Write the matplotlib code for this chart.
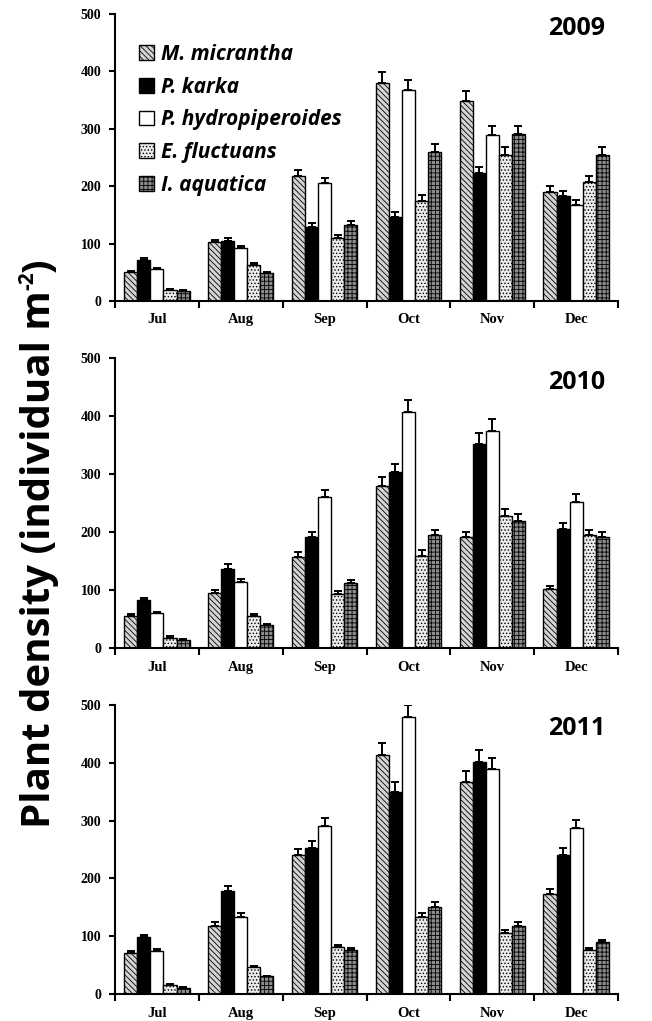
import numpy as np
import matplotlib.pyplot as plt

plt.rcParams['hatch.linewidth'] = 0.6

months = ['Jul', 'Aug', 'Sep', 'Oct', 'Nov', 'Dec']
species = ['M. micrantha', 'P. karka', 'P. hydropiperoides', 'E. fluctuans', 'I. aquatica']
years = ['2009', '2010', '2011']

# mean density per species (rows) and month (cols)
d2009 = [[50, 102, 218, 380, 348, 190],
         [72, 104, 129, 146, 223, 183],
         [55, 92, 205, 367, 290, 168],
         [20, 63, 109, 175, 254, 208],
         [18, 48, 132, 260, 291, 255]]
e2009 = [[3, 5, 11, 19, 17, 11],
         [3, 5, 7, 9, 11, 9],
         [3, 4, 10, 18, 14, 8],
         [1, 3, 6, 9, 14, 10],
         [1, 2, 7, 14, 14, 13]]

d2010 = [[56, 95, 157, 279, 191, 102],
         [83, 136, 191, 303, 352, 205],
         [60, 113, 260, 406, 374, 251],
         [18, 56, 93, 159, 227, 194],
         [14, 40, 112, 194, 219, 191]]
e2010 = [[2, 5, 9, 15, 9, 5],
         [4, 8, 9, 15, 18, 10],
         [2, 6, 13, 22, 20, 14],
         [2, 2, 5, 10, 12, 10],
         [1, 2, 6, 9, 12, 9]]

d2011 = [[71, 117, 240, 413, 366, 173],
         [98, 179, 252, 350, 401, 240],
         [75, 134, 291, 479, 390, 287],
         [16, 47, 81, 134, 105, 77],
         [11, 31, 76, 151, 117, 90]]
e2011 = [[3, 7, 11, 21, 19, 9],
         [4, 8, 12, 17, 21, 12],
         [3, 6, 13, 21, 18, 14],
         [1, 2, 4, 6, 6, 3],
         [1, 1, 4, 8, 7, 4]]

data = [d2009, d2010, d2011]
errs = [e2009, e2010, e2011]

faces = ['#d4d4d4', 'black', 'white', '#ececec', '#8c8c8c']
hatches = ['\\\\\\\\\\\\', None, None, '.....', '++++']

serif = 'Liberation Serif'
sans = 'Open Sans'

fig = plt.figure(figsize=(6.52, 10.21), dpi=100)
W, H = 652.0, 1021.0
boxes = [[0.1764, 0.7052, 0.7716, 0.2811],
         [0.1764, 0.3653, 0.7716, 0.2841],
         [0.1764, 0.0264, 0.7716, 0.2831]]
year_y = [0.951, 0.917, 0.92]

x = np.arange(len(months))
w = 0.156

for k in range(3):
    ax = fig.add_axes(boxes[k])
    for i in range(5):
        pos = x + (i - 2) * w
        vals = np.array(data[k][i])
        err = np.array(errs[k][i])
        ax.bar(pos, vals, w, color=faces[i], edgecolor='black', linewidth=1.0,
               hatch=hatches[i], label=species[i], zorder=2)
        ax.errorbar(pos, vals, yerr=[np.zeros_like(err), err], fmt='none',
                    ecolor='black', elinewidth=1.4, capsize=3, capthick=1.4, zorder=3)
    ax.set_xlim(-0.5, 5.5)
    ax.set_ylim(0, 500)
    ax.spines['top'].set_visible(False)
    ax.spines['right'].set_visible(False)
    ax.spines['left'].set_linewidth(1.5)
    ax.spines['bottom'].set_linewidth(1.5)
    ax.set_yticks([0, 100, 200, 300, 400, 500])
    ax.set_yticklabels(['0', '100', '200', '300', '400', '500'],
                       fontfamily=serif, fontweight='bold', fontsize=10)
    ax.set_xticks(np.arange(-0.5, 6, 1))
    ax.set_xticklabels([])
    ax.set_xticks(x, minor=True)
    ax.set_xticklabels(months, minor=True, fontfamily=serif, fontweight='bold', fontsize=10.5)
    ax.tick_params(axis='x', which='minor', length=0, pad=9)
    ax.tick_params(axis='x', which='major', length=5, width=1.5, direction='out')
    ax.tick_params(axis='y', length=4, width=1.5, direction='out', pad=6)
    ax.text(0.974, year_y[k], years[k], transform=ax.transAxes, ha='right', va='center',
            fontfamily=sans, fontweight='bold', fontsize=18)
    if k == 0:
        ax.legend(loc='upper left', bbox_to_anchor=(0.032, 0.925), frameon=False,
                  prop={'family': sans, 'weight': 'bold', 'style': 'italic', 'size': 15},
                  handlelength=0.7, handleheight=0.7, handletextpad=0.34,
                  labelspacing=0.56, borderaxespad=0)

# y label built from pieces so the superscript stays small
renderer = fig.canvas.get_renderer()
base_x = 50 / W
lab_kw = dict(rotation=90, rotation_mode='anchor', ha='left', va='baseline',
              fontfamily=sans, fontweight='bold')
t1 = fig.text(base_x, 0.189, 'Plant density (individual m', fontsize=29, **lab_kw)
top = t1.get_window_extent(renderer).y1
t2 = fig.text(base_x - 17 / W, top / H, '-2', fontsize=15, **lab_kw)
top = t2.get_window_extent(renderer).y1
fig.text(base_x, top / H, ')', fontsize=29, **lab_kw)

fig.savefig('out.png', dpi=100)
